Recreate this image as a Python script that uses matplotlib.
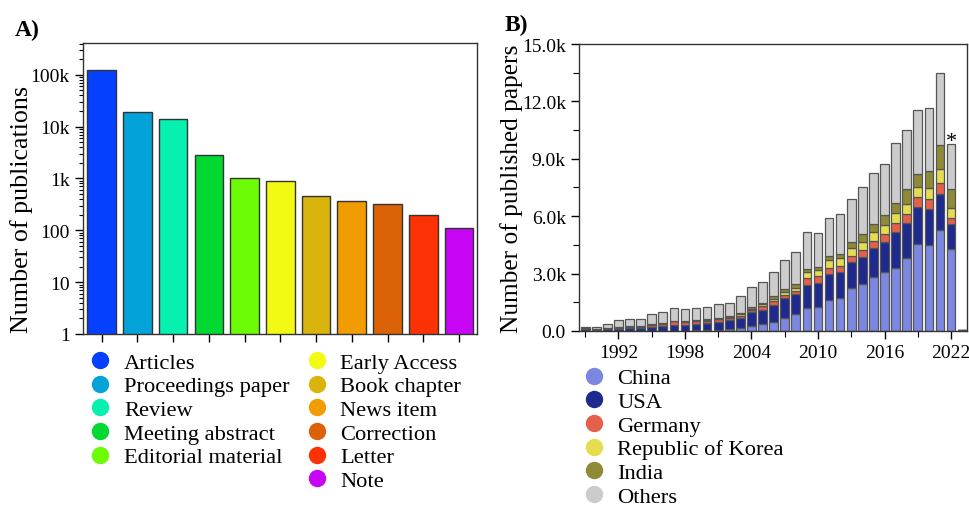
import matplotlib
matplotlib.use("Agg")
import matplotlib.pyplot as plt
from matplotlib.lines import Line2D
from matplotlib.ticker import FixedLocator, FuncFormatter, MultipleLocator, LogLocator, NullFormatter
import numpy as np

plt.rcParams['font.family'] = ['Liberation Serif', 'DejaVu Serif']

# ---------------- Panel A data ----------------
doc_types = ["Articles", "Proceedings paper", "Review", "Meeting abstract", "Editorial material",
             "Early Access", "Book chapter", "News item", "Correction", "Letter", "Note"]
doc_counts = [123000, 18900, 13900, 2840, 1010, 890, 462, 361, 320, 194, 112]
doc_colors = ["#0640ff", "#03a3d8", "#06f0b0", "#02d832", "#6cfc06", "#f2fa14",
              "#d8b40c", "#f09c02", "#dc6208", "#fc3204", "#c804f4"]
a_ticks = [1, 10, 100, 1000, 10000, 100000]
a_ticklabels = ["1", "10", "100", "1k", "10k", "100k"]

# ---------------- Panel B data (thousands) ----------------
years = list(range(1989, 2024))
china = [0.01, 0.01, 0.01, 0.01, 0.01, 0.01, 0.02, 0.02, 0.02, 0.02, 0.03, 0.05, 0.07, 0.10, 0.16,
         0.28, 0.38, 0.49, 0.68, 0.89, 1.18, 1.24, 1.64, 1.71, 2.23, 2.45, 2.84, 3.06, 3.31, 3.79,
         4.52, 4.51, 5.29, 4.30, 0.02]
usa = [0.08, 0.06, 0.09, 0.11, 0.13, 0.16, 0.19, 0.24, 0.29, 0.29, 0.35, 0.37, 0.38, 0.46, 0.50,
       0.69, 0.72, 0.87, 1.02, 1.02, 1.22, 1.27, 1.32, 1.35, 1.39, 1.40, 1.49, 1.57, 1.84, 1.83,
       1.94, 1.89, 1.88, 1.29, 0.02]
germany = [0.03, 0.02, 0.04, 0.05, 0.09, 0.06, 0.12, 0.12, 0.19, 0.18, 0.14, 0.12, 0.16, 0.14, 0.14,
           0.13, 0.22, 0.21, 0.20, 0.18, 0.35, 0.34, 0.31, 0.35, 0.31, 0.40, 0.39, 0.43, 0.47, 0.49,
           0.52, 0.49, 0.57, 0.34, 0.01]
korea = [0.00, 0.00, 0.00, 0.00, 0.00, 0.01, 0.01, 0.01, 0.01, 0.01, 0.01, 0.02, 0.02, 0.02, 0.06,
         0.07, 0.07, 0.12, 0.13, 0.17, 0.31, 0.32, 0.42, 0.38, 0.39, 0.41, 0.47, 0.47, 0.52, 0.54,
         0.55, 0.56, 0.73, 0.51, 0.00]
india = [0.01, 0.01, 0.01, 0.02, 0.03, 0.02, 0.03, 0.03, 0.03, 0.02, 0.03, 0.07, 0.05, 0.05, 0.06,
         0.10, 0.07, 0.12, 0.17, 0.18, 0.18, 0.17, 0.21, 0.23, 0.31, 0.40, 0.41, 0.54, 0.54, 0.76,
         0.70, 0.92, 1.24, 0.97, 0.00]
others = [0.08, 0.11, 0.22, 0.37, 0.38, 0.38, 0.50, 0.55, 0.64, 0.61, 0.66, 0.61, 0.73, 0.69, 0.89,
          1.01, 1.12, 1.29, 1.52, 1.67, 1.95, 1.78, 2.02, 2.09, 2.26, 2.49, 2.68, 2.68, 3.12, 3.10,
          3.31, 3.31, 3.76, 2.35, 0.01]
countries = ["China", "USA", "Germany", "Republic of Korea", "India", "Others"]
country_colors = ["#7b87e0", "#1f2a8f", "#e5604a", "#e5dc50", "#8e8a38", "#cccccc"]
b_yticks = [0, 3, 6, 9, 12, 15]
b_xticks = [1992, 1998, 2004, 2010, 2016, 2022]

LEG_FS = 16.2
MS = 11.5

fig = plt.figure(figsize=(9.7, 5.06), dpi=100)

# ---------------- Panel A ----------------
axA = fig.add_axes([0.0856, 0.338, 0.406, 0.575])
xA = np.arange(len(doc_types))
axA.bar(xA, doc_counts, width=0.8, color=doc_colors, edgecolor="#333333", linewidth=1.0, zorder=2)
axA.set_yscale("log")
axA.set_ylim(1, 4.1e5)
axA.set_xlim(-0.52, 10.5)
axA.yaxis.set_major_locator(FixedLocator(a_ticks))
axA.set_yticklabels(a_ticklabels)
axA.yaxis.set_minor_locator(LogLocator(base=10, subs=np.arange(2, 10)))
axA.yaxis.set_minor_formatter(NullFormatter())
axA.set_xticks(xA)
axA.set_xticklabels([])
axA.tick_params(axis="both", which="major", direction="out", length=6, width=1, labelsize=14)
axA.tick_params(axis="y", which="minor", direction="out", length=3, width=0.8)
axA.set_ylabel("Number of publications", fontsize=18.7, va="center")
axA.yaxis.set_label_coords(-0.157, 0.43)
for s in axA.spines.values():
    s.set_linewidth(1.0)
    s.set_color("#333333")

handlesA = [Line2D([], [], marker="o", linestyle="none", markersize=MS, markerfacecolor=c,
                   markeredgecolor=c) for c in doc_colors]
leg_kw = dict(loc="upper left", frameon=False, fontsize=LEG_FS, handletextpad=0.45,
              labelspacing=0.13, borderaxespad=0.0, borderpad=0.0, handlelength=1.2)
legA1 = axA.legend(handlesA[:5], doc_types[:5], bbox_to_anchor=(0.01, -0.062), **leg_kw)
axA.add_artist(legA1)
legA2 = axA.legend(handlesA[5:], doc_types[5:], bbox_to_anchor=(0.559, -0.062), **leg_kw)
fig.text(0.015, 0.94, "A)", fontsize=17, fontweight="bold", ha="left", va="center")

# ---------------- Panel B ----------------
axB = fig.add_axes([0.597, 0.344, 0.400, 0.567])
series = [china, usa, germany, korea, india, others]
bottom = np.zeros(len(years))
for vals, col in zip(series, country_colors):
    axB.bar(years, vals, bottom=bottom, width=0.78, color=col, edgecolor="#555555",
            linewidth=0.9, zorder=2)
    bottom = bottom + np.array(vals)
axB.set_xlim(1988.45, 2023.45)
axB.set_ylim(0, 15)
axB.yaxis.set_major_locator(FixedLocator(b_yticks))
axB.yaxis.set_major_formatter(FuncFormatter(lambda v, p: "0.0" if v == 0 else f"{v:.1f}k"))
axB.yaxis.set_minor_locator(MultipleLocator(1.5))
axB.xaxis.set_major_locator(FixedLocator(b_xticks))
axB.xaxis.set_minor_locator(MultipleLocator(3))
axB.tick_params(axis="both", which="major", direction="out", length=6, width=1, labelsize=14)
axB.tick_params(axis="both", which="minor", direction="out", length=4, width=0.8)
axB.set_ylabel("Number of published papers", fontsize=18.3, va="center")
axB.yaxis.set_label_coords(-0.173, 0.5)
for s in axB.spines.values():
    s.set_linewidth(1.0)
    s.set_color("#333333")
i22 = years.index(2022)
axB.text(2022, bottom[i22] - 0.37, "*", fontsize=16, ha="center", va="bottom")

handlesB = [Line2D([], [], marker="o", linestyle="none", markersize=MS, markerfacecolor=c,
                   markeredgecolor=c) for c in country_colors]
axB.legend(handlesB, countries, bbox_to_anchor=(0.003, -0.128), **leg_kw)
fig.text(0.52, 0.95, "B)", fontsize=17, fontweight="bold", ha="left", va="center")

fig.savefig("out.png", dpi=100)
